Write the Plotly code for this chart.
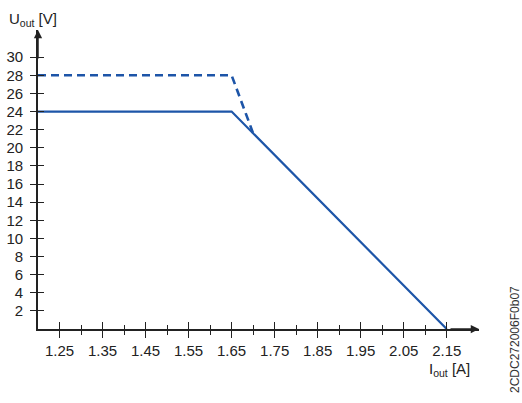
import plotly.graph_objects as go

# Data
I_solid = [1.2, 1.65, 2.15]
U_solid = [24, 24, 0]
I_dash = [1.2, 1.65, 1.70]
U_dash = [28, 28, 21.6]

x_major = [1.25, 1.35, 1.45, 1.55, 1.65, 1.75, 1.85, 1.95, 2.05, 2.15]
x_labels = ["1.25", "1.35", "1.45", "1.55", "1.65", "1.75", "1.85", "1.95", "2.05", "2.15"]
x_minor = [1.30, 1.40, 1.50, 1.60, 1.70, 1.80, 1.90, 2.00, 2.10]
y_ticks = [2, 4, 6, 8, 10, 12, 14, 16, 18, 20, 22, 24, 26, 28, 30]

XR = [1.2, 2.225]
YR = [0, 33]

BLUE = "#1d55a8"
AX = "#222222"
FONT = "Liberation Sans, Arial, Helvetica, sans-serif"
FS = 15

fig = go.Figure()
fig.add_trace(go.Scatter(x=I_dash, y=U_dash, mode="lines",
                         line=dict(color=BLUE, width=2.6, dash="8px,5px"),
                         hoverinfo="skip", showlegend=False))
fig.add_trace(go.Scatter(x=I_solid, y=U_solid, mode="lines",
                         line=dict(color=BLUE, width=2.2),
                         hoverinfo="skip", showlegend=False))
# invisible trace to activate overlay axes (for crossing ticks)
fig.add_trace(go.Scatter(x=I_solid, y=U_solid, mode="lines", xaxis="x2", yaxis="y2",
                         line=dict(color="rgba(0,0,0,0)", width=0),
                         hoverinfo="skip", showlegend=False))

common_x = dict(range=XR, showgrid=False, zeroline=False, automargin=False)
common_y = dict(range=YR, showgrid=False, zeroline=False, automargin=False)

fig.update_layout(
    width=522, height=403,
    margin=dict(l=38, r=43, t=30, b=74),
    paper_bgcolor="white", plot_bgcolor="white",
    font=dict(family=FONT, size=FS, color=AX),
    xaxis=dict(**common_x, showline=True, linecolor=AX, linewidth=1.6,
               tickmode="array", tickvals=x_major, ticktext=x_labels,
               ticks="outside", ticklen=7, tickwidth=1.2, tickcolor=AX,
               tickfont=dict(size=FS, color=AX),
               minor=dict(tickmode="array", tickvals=x_minor, ticks="outside",
                          ticklen=4, tickwidth=1.2, tickcolor=AX)),
    yaxis=dict(**common_y, showline=True, linecolor=AX, linewidth=1.6,
               tickmode="array", tickvals=y_ticks,
               ticks="outside", ticklen=6, tickwidth=1.2, tickcolor=AX,
               ticklabelstandoff=4,
               tickfont=dict(size=FS, color=AX)),
    xaxis2=dict(**common_x, overlaying="x", anchor="y2", side="bottom",
                showline=False, showticklabels=False,
                tickmode="array", tickvals=x_major,
                ticks="inside", ticklen=7, tickwidth=1.2, tickcolor=AX,
                minor=dict(tickmode="array", tickvals=x_minor, ticks="inside",
                           ticklen=4, tickwidth=1.2, tickcolor=AX)),
    yaxis2=dict(**common_y, overlaying="y", anchor="x2", side="left",
                showline=False, showticklabels=False,
                tickmode="array", tickvals=y_ticks,
                ticks="inside", ticklen=6, tickwidth=1.2, tickcolor=AX),
)

# axis arrowheads
fig.add_annotation(x=XR[1], y=0, xref="x", yref="y", ax=-30, ay=0, text="",
                   showarrow=True, arrowhead=2, arrowsize=1.1, arrowwidth=1.5, arrowcolor=AX)
fig.add_annotation(x=XR[0], y=YR[1], xref="x", yref="y", ax=0, ay=30, text="",
                   showarrow=True, arrowhead=2, arrowsize=1.1, arrowwidth=1.5, arrowcolor=AX)

# axis titles
fig.add_annotation(x=0.0, y=1.0, xref="paper", yref="paper", xshift=-31, yshift=11,
                   text="U<sub>out</sub> [V]", showarrow=False,
                   xanchor="left", yanchor="middle", font=dict(size=FS, color=AX))
fig.add_annotation(x=1.0, y=0, xref="paper", yref="paper", xshift=-7, yshift=-40,
                   text="I<sub>out</sub> [A]", showarrow=False,
                   xanchor="right", yanchor="middle", font=dict(size=FS, color=AX))

# figure code
fig.add_annotation(x=1.0, y=0.0, xref="paper", yref="paper", xshift=36, yshift=-11,
                   text="2CDC272006F0b07", showarrow=False, textangle=-90,
                   xanchor="center", yanchor="middle", font=dict(size=12, color="#333333"))

fig.write_html("out.html", config={"displayModeBar": False},
               post_script="document.body.style.margin='0';")
